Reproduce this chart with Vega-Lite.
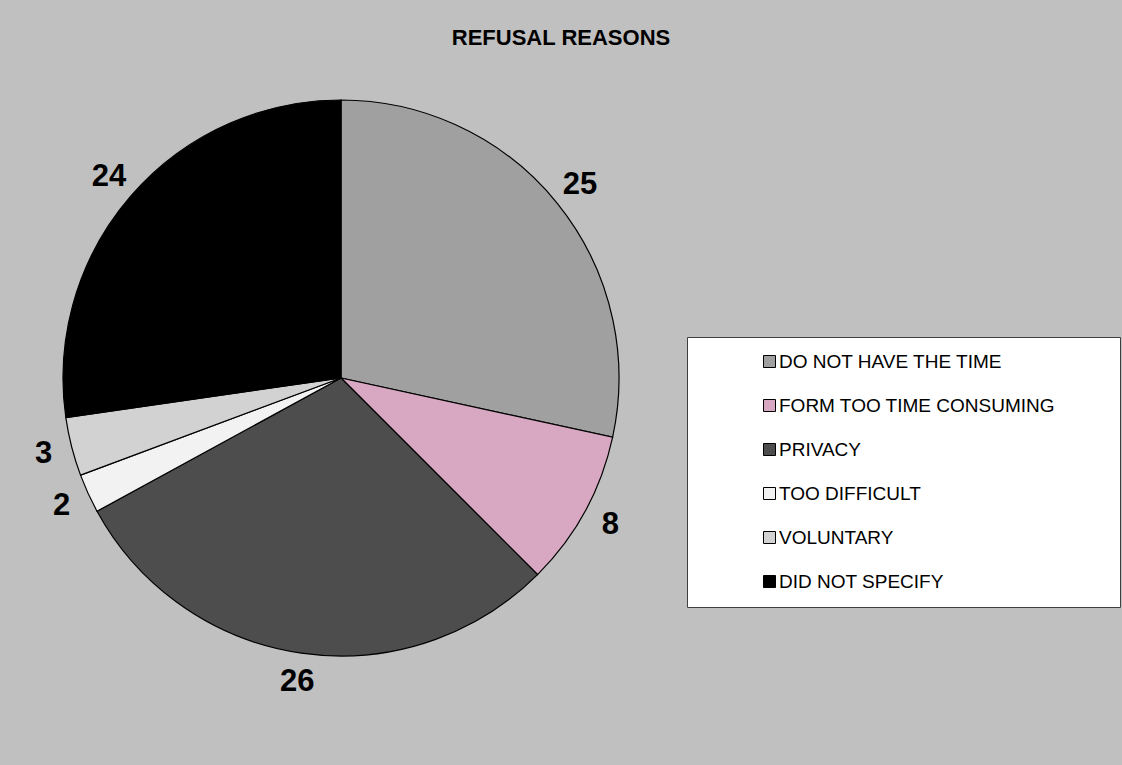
{
  "$schema": "https://vega.github.io/schema/vega-lite/v6.json",
  "width": 556,
  "height": 556,
  "autosize": {"type": "none"},
  "padding": {"left": 63, "top": 100, "right": 503, "bottom": 109},
  "background": "#c0c0c0",
  "title": {
    "text": "REFUSAL REASONS",
    "font": "Liberation Sans",
    "fontSize": 22,
    "fontWeight": "bold",
    "color": "#000000",
    "anchor": "middle",
    "dx": 220,
    "offset": 48
  },
  "data": {
    "values": [
      {"reason": "DO NOT HAVE THE TIME", "count": 25, "idx": 1},
      {"reason": "FORM TOO TIME CONSUMING", "count": 8, "idx": 2},
      {"reason": "PRIVACY", "count": 26, "idx": 3},
      {"reason": "TOO DIFFICULT", "count": 2, "idx": 4},
      {"reason": "VOLUNTARY", "count": 3, "idx": 5},
      {"reason": "DID  NOT SPECIFY", "count": 24, "idx": 6}
    ]
  },
  "encoding": {
    "theta": {"field": "count", "type": "quantitative", "stack": true},
    "order": {"field": "idx", "type": "quantitative"}
  },
  "layer": [
    {
      "mark": {"type": "arc", "stroke": "#000000", "strokeWidth": 1.2},
      "encoding": {
        "color": {
          "field": "reason",
          "type": "nominal",
          "scale": {
            "domain": ["DO NOT HAVE THE TIME", "FORM TOO TIME CONSUMING", "PRIVACY", "TOO DIFFICULT", "VOLUNTARY", "DID  NOT SPECIFY"],
            "range": ["#a0a0a0", "#d8a8c2", "#4d4d4d", "#f2f2f2", "#d2d2d2", "#000000"]
          },
          "legend": {
            "title": ".",
            "titleOrient": "right",
            "titleColor": "#ffffff",
            "titleFontSize": 6,
            "titlePadding": 48,
            "orient": "none",
            "legendX": 624,
            "legendY": 237,
            "fillColor": "#ffffff",
            "strokeColor": "#404040",
            "padding": 15,
            "symbolType": "square",
            "symbolSize": 144,
            "symbolStrokeColor": "#000000",
            "symbolStrokeWidth": 1,
            "symbolOffset": 58,
            "labelOffset": 0,
            "labelLimit": 0,
            "labelFont": "Liberation Sans",
            "labelFontSize": 19,
            "labelColor": "#000000",
            "rowPadding": 24
          }
        }
      }
    },
    {
      "mark": {
        "type": "text",
        "radius": 307,
        "font": "Liberation Sans",
        "fontSize": 31,
        "fontWeight": "bold",
        "color": "#000000",
        "align": "center",
        "baseline": "middle"
      },
      "encoding": {
        "text": {"field": "count", "type": "quantitative"}
      }
    }
  ],
  "config": {"view": {"stroke": null}}
}
